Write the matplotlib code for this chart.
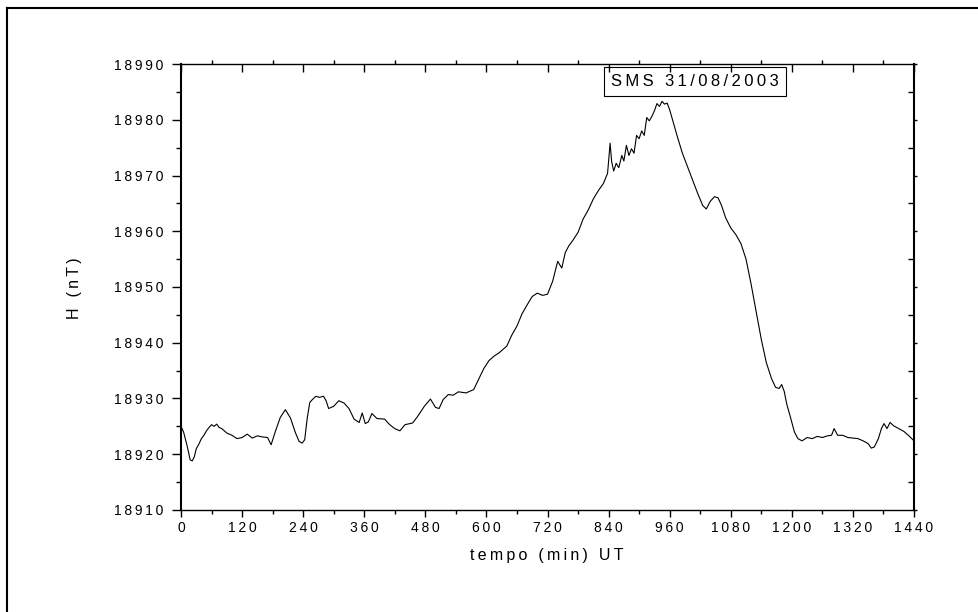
import matplotlib
matplotlib.use("Agg")
import matplotlib.pyplot as plt
from matplotlib.lines import Line2D
from matplotlib.ticker import MultipleLocator, NullFormatter, FuncFormatter

plt.rcParams['font.family'] = ['Liberation Sans', 'DejaVu Sans']

# H component (minutes UT, nT), 10 points per row
tempo = [0, 5, 12, 18, 22, 26, 30, 35, 40, 45,
         50, 55, 60, 65, 70, 75, 80, 90, 100, 110,
         120, 130, 140, 150, 160, 170, 177, 185, 195, 205,
         215, 225, 232, 238, 243, 248, 253, 258, 265, 272,
         280, 285, 290, 300, 310, 320, 330, 340, 350, 356,
         362, 368, 375, 385, 400, 410, 420, 430, 440, 455,
         465, 478, 490, 500, 507, 515, 525, 535, 545, 560,
         575, 585, 595, 605, 615, 625, 640, 650, 660, 670,
         680, 690, 700, 710, 720, 730, 740, 748, 755, 762,
         770, 780, 790, 800, 810, 820, 830, 838, 843, 846,
         850, 855, 860, 866, 870, 875, 880, 885, 890, 895,
         900, 905, 910, 915, 920, 925, 930, 935, 940, 945,
         950, 955, 960, 965, 975, 985, 995, 1005, 1015, 1025,
         1032, 1040, 1048, 1055, 1062, 1070, 1080, 1090, 1100, 1110,
         1120, 1130, 1140, 1150, 1160, 1168, 1175, 1180, 1185, 1190,
         1198, 1205, 1212, 1220, 1230, 1240, 1250, 1260, 1270, 1278,
         1283, 1290, 1300, 1310, 1320, 1330, 1340, 1350, 1356, 1362,
         1370, 1376, 1381, 1387, 1393, 1400, 1410, 1420, 1430, 1440]
h_nt = [18925.0, 18924.0, 18921.5, 18919.0, 18918.8, 18919.5, 18921.0, 18921.8, 18922.8, 18923.4,
        18924.2, 18924.8, 18925.3, 18925.0, 18925.4, 18924.8, 18924.6, 18923.8, 18923.4, 18922.8,
        18923.0, 18923.6, 18922.9, 18923.3, 18923.1, 18923.0, 18921.7, 18924.0, 18926.6, 18928.0,
        18926.5, 18923.8, 18922.3, 18922.0, 18922.6, 18926.5, 18929.3, 18929.8, 18930.4, 18930.2,
        18930.4, 18929.6, 18928.2, 18928.6, 18929.6, 18929.2, 18928.2, 18926.3, 18925.7, 18927.4,
        18925.5, 18925.8, 18927.3, 18926.4, 18926.3, 18925.3, 18924.6, 18924.2, 18925.3, 18925.6,
        18926.8, 18928.6, 18929.9, 18928.4, 18928.2, 18929.8, 18930.7, 18930.6, 18931.2, 18931.0,
        18931.6, 18933.5, 18935.4, 18936.8, 18937.6, 18938.2, 18939.4, 18941.4, 18943.0, 18945.2,
        18946.8, 18948.3, 18948.9, 18948.5, 18948.7, 18951.0, 18954.6, 18953.4, 18956.2, 18957.4,
        18958.4, 18959.8, 18962.2, 18963.8, 18965.8, 18967.3, 18968.6, 18970.4, 18975.8, 18972.5,
        18970.8, 18972.2, 18971.4, 18973.6, 18972.6, 18975.4, 18973.6, 18974.8, 18974.0, 18977.2,
        18976.6, 18978.0, 18977.2, 18980.4, 18979.8, 18980.6, 18981.6, 18982.9, 18982.4, 18983.3,
        18982.8, 18983.0, 18981.8, 18980.2, 18977.0, 18974.0, 18971.6, 18969.2, 18966.8, 18964.6,
        18964.0, 18965.4, 18966.2, 18966.0, 18964.6, 18962.4, 18960.6, 18959.4, 18957.8, 18955.0,
        18950.5, 18945.5, 18940.6, 18936.4, 18933.6, 18932.0, 18931.8, 18932.5, 18931.3, 18929.0,
        18926.4, 18924.0, 18922.8, 18922.4, 18923.0, 18922.8, 18923.2, 18923.0, 18923.3, 18923.4,
        18924.6, 18923.4, 18923.4, 18923.0, 18922.9, 18922.8, 18922.4, 18921.9, 18921.1, 18921.3,
        18922.8, 18924.6, 18925.5, 18924.6, 18925.7, 18925.1, 18924.6, 18924.1, 18923.3, 18922.4]

titulo = "SMS 31/08/2003"
xlabel = "tempo (min) UT"
ylabel = "H (nT)"


def spaced(s):
    # Origin draws its text with extra letter spacing
    return '\u2009'.join(s)


fig = plt.figure(figsize=(9.79, 6.12), dpi=100)
ax = fig.add_axes([0.1849, 0.1667, 0.7487, 0.7287])

ax.plot(tempo, h_nt, color='black', lw=0.8)
ax.set_xlim(0, 1440)
ax.set_ylim(18910, 18990)

ax.xaxis.set_major_locator(MultipleLocator(120))
ax.xaxis.set_minor_locator(MultipleLocator(60))
ax.yaxis.set_major_locator(MultipleLocator(10))
ax.yaxis.set_minor_locator(MultipleLocator(5))
ax.xaxis.set_major_formatter(FuncFormatter(lambda v, p: spaced(f"{v:.0f}")))
ax.yaxis.set_major_formatter(FuncFormatter(lambda v, p: spaced(f"{v:.0f}")))
ax.tick_params(axis='x', which='major', direction='out', length=5, width=1,
               labelsize=10, pad=3)
ax.tick_params(axis='x', which='minor', direction='out', length=3, width=1)
ax.tick_params(axis='y', which='major', direction='out', length=6.5, width=1,
               labelsize=10, pad=6)
ax.tick_params(axis='y', which='minor', direction='out', length=3.5, width=1)

for s in ['left', 'right']:
    ax.spines[s].set_linewidth(1.5)
for s in ['top', 'bottom']:
    ax.spines[s].set_linewidth(1.0)

# top axis: major ticks in, minor out
axt = ax.twiny()
axt.set_xlim(0, 1440)
axt.xaxis.set_major_locator(MultipleLocator(120))
axt.xaxis.set_minor_locator(MultipleLocator(60))
axt.xaxis.set_major_formatter(NullFormatter())
axt.tick_params(axis='x', which='major', direction='in', length=6, width=1)
axt.tick_params(axis='x', which='minor', direction='out', length=3, width=1)
axt.set_frame_on(False)

# right axis: major ticks out (short), minor in
axr = ax.twinx()
axr.set_ylim(18910, 18990)
axr.yaxis.set_major_locator(MultipleLocator(10))
axr.yaxis.set_minor_locator(MultipleLocator(5))
axr.yaxis.set_major_formatter(NullFormatter())
axr.tick_params(axis='y', which='major', direction='out', length=2, width=1)
axr.tick_params(axis='y', which='minor', direction='in', length=4.5, width=1)
axr.set_frame_on(False)

ax.set_xlabel(spaced(xlabel), fontsize=11.5, va='center')
ax.xaxis.set_label_coords(0.499, -0.101)
ax.set_ylabel(spaced(ylabel), fontsize=11.5, va='center')
ax.yaxis.set_label_coords(-0.146, 0.498)

ax.text(0.701, 0.961, spaced(titulo), transform=ax.transAxes, fontsize=12,
        ha='center', va='center',
        bbox=dict(boxstyle='square,pad=0.42', fc='white', ec='black', lw=0.8))

# outer frame (left and top edges only visible)
fig.add_artist(Line2D([7 / 979, 7 / 979], [0, 1 - 8 / 612], color='black',
                      lw=1.5, transform=fig.transFigure))
fig.add_artist(Line2D([7 / 979, 1], [1 - 8 / 612, 1 - 8 / 612], color='black',
                      lw=1.5, transform=fig.transFigure))

fig.savefig("out.png", dpi=100)
